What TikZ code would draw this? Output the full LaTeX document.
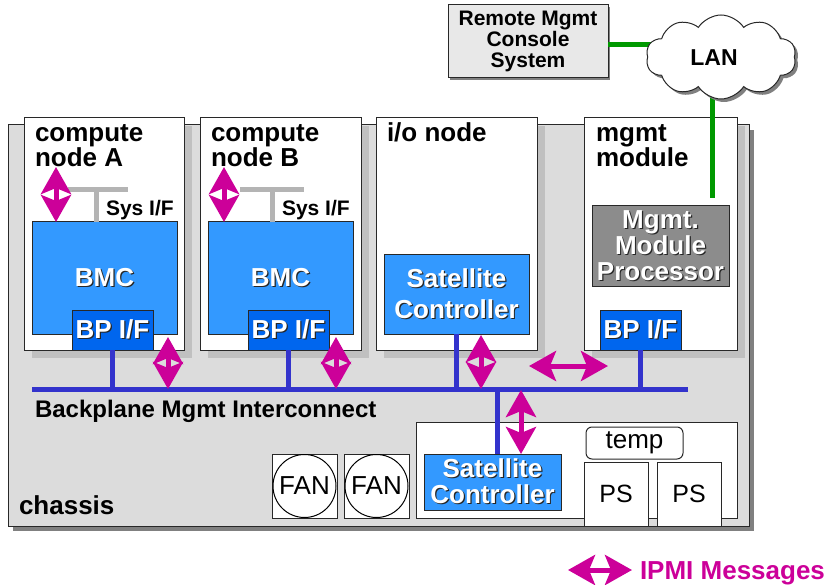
\documentclass[tikz,border=0pt]{standalone}
\usepackage{fontspec}
\setmainfont{Liberation Sans}
\usetikzlibrary{arrows.meta,shapes.symbols,shadows}

\definecolor{ipmi}{RGB}{204,0,153}
\definecolor{bmcblue}{RGB}{51,153,255}
\definecolor{bpblue}{RGB}{0,102,238}
\definecolor{busblue}{RGB}{51,51,204}
\definecolor{langreen}{RGB}{0,153,0}
\definecolor{chassisgray}{RGB}{220,220,220}
\definecolor{slotshadow}{RGB}{192,192,192}
\definecolor{darkshadow}{RGB}{128,128,128}
\definecolor{procgray}{RGB}{140,140,140}
\definecolor{sysgray}{RGB}{180,180,180}
\definecolor{consolegray}{RGB}{232,232,232}
\definecolor{edgegray}{RGB}{40,40,40}

% white lettering with a dark offset copy behind it
\newcommand\embossed[1]{\leavevmode\rlap{\kern1.2pt\raisebox{-1.2pt}{\color{black!85}#1}}{\color{white}#1}}

\tikzset{
  every node/.style={inner sep=0pt, outer sep=0pt},
  boxedge/.style={draw=edgegray, line width=1pt},
  chassisbox/.style={boxedge, fill=chassisgray, anchor=north west,
    drop shadow={shadow xshift=5pt, shadow yshift=-5pt, fill=darkshadow, opacity=1}},
  slot/.style={boxedge, fill=white, anchor=north west,
    drop shadow={shadow xshift=8pt, shadow yshift=-8pt, fill=slotshadow, opacity=1}},
  slotlabel/.style={font=\bfseries\fontsize{26}{21.5}\selectfont, anchor=north west, align=left},
  chip/.style={boxedge, anchor=north west, align=center, font=\bfseries\fontsize{26}{31}\selectfont},
  bmcbox/.style={chip, fill=bmcblue},
  bpbox/.style={chip, fill=bpblue, minimum width=81pt, minimum height=40pt},
  satbox/.style={chip, fill=bmcblue},
  plainbox/.style={boxedge, fill=white, anchor=north west, font=\fontsize{26}{30}\selectfont},
  sysbar/.style={draw=sysgray, line width=5pt},
  bus/.style={draw=busblue, line width=5pt},
  lanlink/.style={draw=langreen, line width=5pt},
  ipmiarrow/.style={draw=ipmi, line width=5pt,
    {Stealth[length=27pt,width=30pt,inset=6pt]}-{Stealth[length=27pt,width=30pt,inset=6pt]}},
}

\begin{document}
\begin{tikzpicture}[x=1pt,y=-1pt]
\useasboundingbox (0,0) rectangle (829,585);

% ---------------- chassis ----------------
\node[chassisbox, minimum width=741pt, minimum height=401pt] (chassis) at (8,125) {};

% ---------------- slots ----------------
\node[slot, minimum width=160pt, minimum height=232pt] (nodeA) at (24,118) {};
\node[slot, minimum width=161pt, minimum height=232pt] (nodeB) at (200,118) {};
\node[slot, minimum width=161pt, minimum height=232pt] (ionode) at (376,118) {};
\node[slot, minimum width=153pt, minimum height=232pt] (mgmt) at (584,118) {};

\node[slotlabel] (labA) at (35,124.5) {compute\\node A};
\node[slotlabel] (labB) at (211,124.5) {compute\\node B};
\node[font=\bfseries\fontsize{26}{21.5}\selectfont, anchor=base west] (labIO) at (387,142) {i/o node};
\node[slotlabel] (labM) at (596,124.5) {mgmt\\module};

% ---------------- compute node A ----------------
\node[bmcbox, minimum width=145pt, minimum height=112pt] (bmcA) at (32,222) {\embossed{BMC}};
\node[bpbox] (bpA) at (72,310) {\embossed{BP I/F}};
\coordinate (tA) at (96,190);
\draw[sysbar] ([xshift=-28pt]tA) -- ([xshift=32pt]tA);
\draw[sysbar] (tA) -- (tA |- bmcA.north);
\node[font=\bfseries\fontsize{21}{21}\selectfont, anchor=base west] (sysA) at (106,216) {Sys I/F};

% ---------------- compute node B ----------------
\node[bmcbox, minimum width=145pt, minimum height=112pt] (bmcB) at (208,222) {\embossed{BMC}};
\node[bpbox] (bpB) at (248,310) {\embossed{BP I/F}};
\coordinate (tB) at (272,190);
\draw[sysbar] ([xshift=-32pt]tB) -- ([xshift=32pt]tB);
\draw[sysbar] (tB) -- (tB |- bmcB.north);
\node[font=\bfseries\fontsize{21}{21}\selectfont, anchor=base west] (sysB) at (282,216) {Sys I/F};

% ---------------- i/o node ----------------
\node[satbox, minimum width=145pt, minimum height=80pt] (satIO) at (384,254)
  {\embossed{Satellite}\\\embossed{Controller}};

% ---------------- management module ----------------
\node[chip, fill=procgray, minimum width=137pt, minimum height=80pt,
      font=\bfseries\fontsize{26}{25.5}\selectfont] (proc) at (592,206)
  {\embossed{Mgmt.}\\\embossed{Module}\\\embossed{Processor}};
\node[bpbox] (bpM) at (600,310) {\embossed{BP I/F}};

% ---------------- power / cooling bay ----------------
\node[plainbox, minimum width=321pt, minimum height=96pt] (bay) at (416,422) {};
\node[satbox, minimum width=137pt, minimum height=56pt,
      font=\bfseries\fontsize{26}{26}\selectfont] (satLow) at (424,454)
  {\embossed{Satellite}\\\embossed{Controller}};
\node[plainbox, rounded corners=6pt, minimum width=97pt, minimum height=32pt] (temp) at (586,427) {temp};
\node[plainbox, minimum width=64pt, minimum height=64pt, font=\fontsize{25}{25}\selectfont] (ps1) at (584,462) {PS};
\node[plainbox, minimum width=64pt, minimum height=64pt, font=\fontsize{25}{25}\selectfont] (ps2) at (657,462) {PS};

\node[plainbox, minimum width=65pt, minimum height=64pt] (fan1) at (272,454) {};
\node[circle, draw=black, line width=1pt, minimum size=63pt, font=\fontsize{26}{26}\selectfont] (fan1c) at (fan1.center) {FAN};
\node[plainbox, minimum width=65pt, minimum height=64pt] (fan2) at (344,454) {};
\node[circle, draw=black, line width=1pt, minimum size=63pt, font=\fontsize{26}{26}\selectfont] (fan2c) at (fan2.center) {FAN};

% ---------------- backplane bus ----------------
\coordinate (busW) at (32,389);
\coordinate (busE) at (688,389);
\draw[bus] (busW) -- (busE);
\draw[bus] (bpA.south) -- (bpA.south |- busW);
\draw[bus] (bpB.south) -- (bpB.south |- busW);
\draw[bus] (satIO.south) -- (satIO.south |- busW);
\draw[bus] (bpM.south) -- (bpM.south |- busW);
\draw[bus] ([xshift=4.5pt]satLow.north) -- ([xshift=4.5pt]satLow.north |- busW);

\node[font=\bfseries\fontsize{24}{24}\selectfont, anchor=base west] (buslabel) at (35,417) {Backplane Mgmt Interconnect};
\node[font=\bfseries\fontsize{26}{26}\selectfont, anchor=base west] (chassislabel) at (19,514) {chassis};

% ---------------- IPMI message paths ----------------
\coordinate (hostA) at (56,167);
\draw[ipmiarrow] (hostA) -- (hostA |- bmcA.north);
\coordinate (hostB) at (224,167);
\draw[ipmiarrow] (hostB) -- (hostB |- bmcB.north);
\coordinate (upA) at (168,337);
\draw[ipmiarrow] (upA) -- (upA |- busW);
\coordinate (upB) at (336,337);
\draw[ipmiarrow] (upB) -- (upB |- busW);
\coordinate (upIO) at (481,335);
\draw[ipmiarrow] (upIO) -- (upIO |- busW);
\coordinate (midL) at (529,366);
\coordinate (midR) at (608,366);
\draw[ipmiarrow] (midL) -- (midR);
\coordinate (downBay) at (521,390);
\draw[ipmiarrow] (downBay) -- (downBay |- satLow.north);

% ---------------- remote console and LAN ----------------
\node[boxedge, fill=consolegray, anchor=north west, minimum width=160pt, minimum height=73pt,
      align=center, font=\bfseries\fontsize{21}{21}\selectfont,
      drop shadow={shadow xshift=2pt, shadow yshift=-2pt, fill=darkshadow, opacity=1}]
  (remote) at (448,5) {Remote Mgmt\\Console\\System};

\coordinate (lanW) at (680,45);
\coordinate (lanS) at (712,70);
\coordinate (mgmtUplink) at (712,198);
\draw[lanlink] (lanW -| remote.east) -- (lanW);
\draw[lanlink] (lanS) -- (mgmtUplink);

\node[cloud, cloud puffs=10, cloud puff arc=115, aspect=1.8, draw=edgegray, line width=1pt,
      fill=white, minimum width=150pt, minimum height=84pt,
      drop shadow={shadow xshift=3pt, shadow yshift=-3pt, fill=darkshadow, opacity=1},
      label={[font=\bfseries\fontsize{23}{23}\selectfont, xshift=-7pt, yshift=-1pt]center:LAN}]
  (lan) at (721,57) {};

% ---------------- legend ----------------
\coordinate (legL) at (568,570);
\coordinate (legR) at (632,570);
\draw[ipmiarrow] (legL) -- (legR);
\node[font=\bfseries\fontsize{26}{26}\selectfont, text=ipmi, anchor=base west] (legend) at (640,579) {IPMI Messages};
\end{tikzpicture}
\end{document}
